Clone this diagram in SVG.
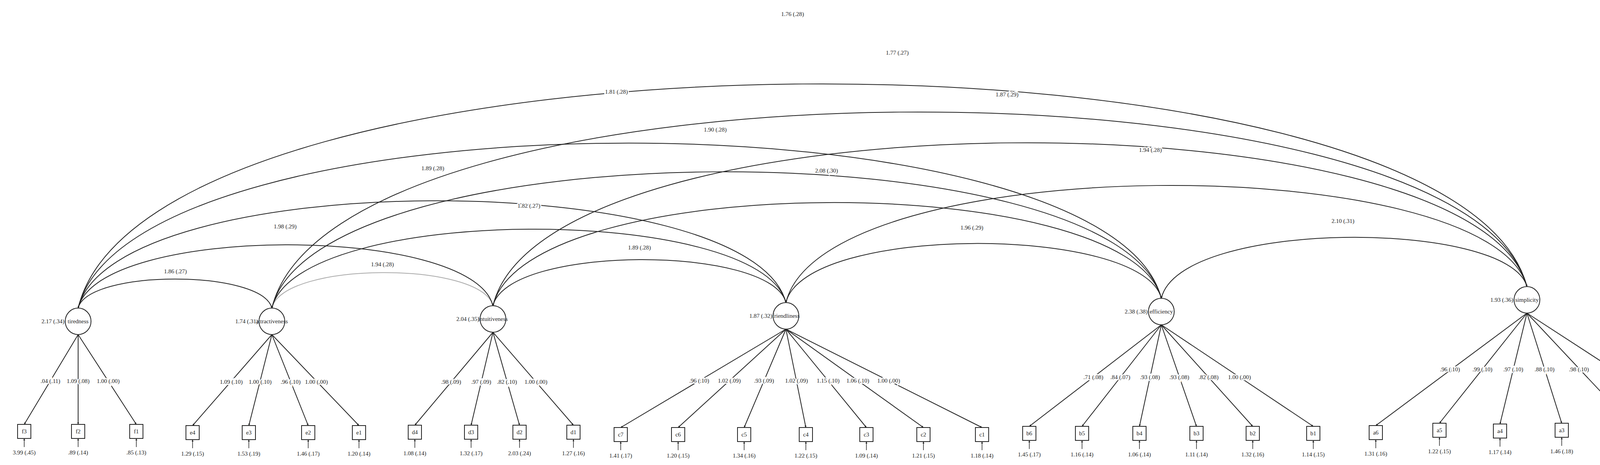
<svg xmlns="http://www.w3.org/2000/svg" width="4419" height="1191" viewBox="0 0 4419 1191">
<style>
text{font-family:"Liberation Serif",serif;font-size:15px;fill:#222;text-anchor:middle}
.v{text-anchor:end}
.h{stroke:#fff;stroke-width:6px;paint-order:stroke}
.lat{fill:#fff;stroke:#222;stroke-width:2}
.box{fill:#fff;stroke:#222;stroke-width:2}
.cov{fill:none;stroke:#222;stroke-width:2;marker-start:url(#ah);marker-end:url(#ah)}
.ld{stroke:#222;stroke-width:2;marker-end:url(#ah)}
.res{stroke:#222;stroke-width:1.5;marker-end:url(#ah)}
</style>
<defs>
<marker id="ah" viewBox="0 0 10 10" refX="10" refY="5" markerWidth="5" markerHeight="5" orient="auto-start-reverse" markerUnits="userSpaceOnUse"><path d="M0,0 L10,5 L0,10 z" fill="#222"/></marker>
</defs>
<rect width="4419" height="1191" fill="#fff"/>
<g id="connectors">
<path class="cov" d="M200,789 C225,690 671,690 696,789"/>
<path class="cov" style="stroke:#aaa" d="M696,789 C724,669 1234,669 1262,783"/>
<path class="cov" d="M1262,783 C1300,627 1974,627 2012,775"/>
<path class="cov" d="M2012,775 C2060,575 2925,575 2973,764"/>
<path class="cov" d="M2973,764 C3020,561 3862,561 3909,734"/>
<path class="cov" d="M200,789 C253,574 1209,574 1262,783"/>
<path class="cov" d="M696,789 C762,522 1946,522 2012,775"/>
<path class="cov" d="M1262,783 C1348,434 2887,434 2973,764"/>
<path class="cov" d="M2012,775 C2107,382 3814,382 3909,734"/>
<path class="cov" d="M200,789 C291,425 1921,425 2012,775"/>
<path class="cov" d="M696,789 C810,328 2859,328 2973,764"/>
<path class="cov" d="M1262,783 C1394,235 3777,235 3909,734"/>
<path class="cov" d="M200,789 C339,230 2834,230 2973,764"/>
<path class="cov" d="M696,789 C857,129 3748,129 3909,734"/>
<path class="cov" d="M200,789 C385,33 3724,33 3909,734"/>
<!-- loadings -->
<line class="ld" x1="200" y1="857" x2="62" y2="1087"/>
<line class="ld" x1="200" y1="857" x2="200" y2="1087"/>
<line class="ld" x1="200" y1="857" x2="349" y2="1087"/>
<line class="ld" x1="696" y1="857" x2="493" y2="1090"/>
<line class="ld" x1="696" y1="857" x2="637" y2="1090"/>
<line class="ld" x1="696" y1="857" x2="789" y2="1090"/>
<line class="ld" x1="696" y1="857" x2="919" y2="1090"/>
<line class="ld" x1="1262" y1="851" x2="1062" y2="1089"/>
<line class="ld" x1="1262" y1="851" x2="1206" y2="1089"/>
<line class="ld" x1="1262" y1="851" x2="1330" y2="1089"/>
<line class="ld" x1="1262" y1="851" x2="1468" y2="1089"/>
<line class="ld" x1="2012" y1="843" x2="1589" y2="1095"/>
<line class="ld" x1="2012" y1="843" x2="1736" y2="1095"/>
<line class="ld" x1="2012" y1="843" x2="1905" y2="1095"/>
<line class="ld" x1="2012" y1="843" x2="2063" y2="1095"/>
<line class="ld" x1="2012" y1="843" x2="2218" y2="1095"/>
<line class="ld" x1="2012" y1="843" x2="2364" y2="1095"/>
<line class="ld" x1="2012" y1="843" x2="2514" y2="1095"/>
<line class="ld" x1="2973" y1="832" x2="2635" y2="1092"/>
<line class="ld" x1="2973" y1="832" x2="2770" y2="1092"/>
<line class="ld" x1="2973" y1="832" x2="2917" y2="1092"/>
<line class="ld" x1="2973" y1="832" x2="3063" y2="1092"/>
<line class="ld" x1="2973" y1="832" x2="3207" y2="1092"/>
<line class="ld" x1="2973" y1="832" x2="3362" y2="1092"/>
<line class="ld" x1="3909" y1="802" x2="3522" y2="1090"/>
<line class="ld" x1="3909" y1="802" x2="3685" y2="1084"/>
<line class="ld" x1="3909" y1="802" x2="3840" y2="1086"/>
<line class="ld" x1="3909" y1="802" x2="3998" y2="1084"/>
<line class="ld" x1="3909" y1="802" x2="4170" y2="1080"/>
<line class="ld" x1="3909" y1="802" x2="4340" y2="1082"/>
<!-- residual arrows -->
<g class="res">
<line x1="62" y1="1145" x2="62" y2="1123"/><line x1="200" y1="1145" x2="200" y2="1123"/><line x1="349" y1="1145" x2="349" y2="1123"/>
<line x1="493" y1="1148" x2="493" y2="1126"/><line x1="637" y1="1148" x2="637" y2="1126"/><line x1="789" y1="1148" x2="789" y2="1126"/><line x1="919" y1="1148" x2="919" y2="1126"/>
<line x1="1062" y1="1147" x2="1062" y2="1125"/><line x1="1206" y1="1147" x2="1206" y2="1125"/><line x1="1330" y1="1147" x2="1330" y2="1125"/><line x1="1468" y1="1147" x2="1468" y2="1125"/>
<line x1="1589" y1="1153" x2="1589" y2="1131"/><line x1="1736" y1="1153" x2="1736" y2="1131"/><line x1="1905" y1="1153" x2="1905" y2="1131"/><line x1="2063" y1="1153" x2="2063" y2="1131"/><line x1="2218" y1="1153" x2="2218" y2="1131"/><line x1="2364" y1="1153" x2="2364" y2="1131"/><line x1="2514" y1="1153" x2="2514" y2="1131"/>
<line x1="2635" y1="1150" x2="2635" y2="1128"/><line x1="2770" y1="1150" x2="2770" y2="1128"/><line x1="2917" y1="1150" x2="2917" y2="1128"/><line x1="3063" y1="1150" x2="3063" y2="1128"/><line x1="3207" y1="1150" x2="3207" y2="1128"/><line x1="3362" y1="1150" x2="3362" y2="1128"/>
<line x1="3522" y1="1148" x2="3522" y2="1126"/><line x1="3685" y1="1142" x2="3685" y2="1120"/><line x1="3840" y1="1144" x2="3840" y2="1122"/><line x1="3998" y1="1142" x2="3998" y2="1120"/><line x1="4170" y1="1138" x2="4170" y2="1116"/><line x1="4340" y1="1140" x2="4340" y2="1118"/>
</g>
<!-- covariance labels -->
<g class="h">
<text x="449" y="700">1.86 (.27)</text>
<text x="979" y="682">1.94 (.28)</text>
<text x="730" y="585">1.98 (.29)</text>
<text x="1354" y="532">1.82 (.27)</text>
<text x="1108" y="436">1.89 (.28)</text>
<text x="1831" y="337">1.90 (.28)</text>
<text x="2116" y="442">2.08 (.30)</text>
<text x="1637" y="639">1.89 (.28)</text>
<text x="1578" y="240">1.81 (.28)</text>
<text x="2578" y="247">1.87 (.29)</text>
<text x="2029" y="41">1.76 (.28)</text>
<text x="2297" y="140">1.77 (.27)</text>
<text x="2945" y="389">1.94 (.28)</text>
<text x="2488" y="588">1.96 (.29)</text>
<text x="3438" y="571">2.10 (.31)</text>
</g>
<!-- loading labels -->
<g class="h">
<text x="129" y="981">.04 (.11)</text><text x="200" y="981">1.09 (.08)</text><text x="277" y="981">1.00 (.00)</text>
<text x="592" y="983">1.09 (.10)</text><text x="666" y="983">1.00 (.10)</text><text x="744" y="983">.96 (.10)</text><text x="810" y="983">1.00 (.00)</text>
<text x="1155" y="983">.98 (.09)</text><text x="1232" y="983">.97 (.09)</text><text x="1298" y="983">.82 (.10)</text><text x="1372" y="983">1.00 (.00)</text>
<text x="1790" y="980">.96 (.10)</text><text x="1867" y="980">1.02 (.09)</text><text x="1956" y="980">.93 (.09)</text><text x="2039" y="980">1.02 (.09)</text><text x="2120" y="980">1.15 (.10)</text><text x="2196" y="980">1.06 (.10)</text><text x="2275" y="980">1.00 (.00)</text>
<text x="2799" y="971">.71 (.08)</text><text x="2868" y="971">.84 (.07)</text><text x="2944" y="971">.93 (.08)</text><text x="3019" y="971">.93 (.08)</text><text x="3094" y="971">.82 (.08)</text><text x="3173" y="971">1.00 (.00)</text>
<text x="3712" y="951">.96 (.10)</text><text x="3795" y="951">.99 (.10)</text><text x="3874" y="951">.97 (.10)</text><text x="3954" y="951">.88 (.10)</text><text x="4042" y="951">.98 (.10)</text><text x="4129" y="951">1.00 (.00)</text>
</g>
</g>
<g id="tiredness"><ellipse class="lat" cx="200" cy="823" rx="33" ry="34"/><text x="200" y="828">tiredness</text><text class="v" x="165" y="828">2.17 (.34)</text></g>
<g id="attractiveness"><ellipse class="lat" cx="696" cy="823" rx="33" ry="34"/><text x="696" y="828">attractiveness</text><text class="v" x="661" y="828">1.74 (.31)</text></g>
<g id="intuitiveness"><ellipse class="lat" cx="1262" cy="817" rx="33" ry="34"/><text x="1262" y="822">intuitiveness</text><text class="v" x="1227" y="822">2.04 (.35)</text></g>
<g id="friendliness"><ellipse class="lat" cx="2012" cy="809" rx="33" ry="34"/><text x="2012" y="814">friendliness</text><text class="v" x="1977" y="814">1.87 (.32)</text></g>
<g id="efficiency"><ellipse class="lat" cx="2973" cy="798" rx="33" ry="34"/><text x="2973" y="803">efficiency</text><text class="v" x="2938" y="803">2.38 (.38)</text></g>
<g id="simplicity"><ellipse class="lat" cx="3909" cy="768" rx="33" ry="34"/><text x="3909" y="773">simplicity</text><text class="v" x="3874" y="773">1.93 (.36)</text></g>
<g id="f3"><rect class="box" x="45" y="1087" width="34" height="36"/><text x="62" y="1110">f3</text><text x="62" y="1164">3.99 (.45)</text></g>
<g id="f2"><rect class="box" x="183" y="1087" width="34" height="36"/><text x="200" y="1110">f2</text><text x="200" y="1164">.89 (.14)</text></g>
<g id="f1"><rect class="box" x="332" y="1087" width="34" height="36"/><text x="349" y="1110">f1</text><text x="349" y="1164">.85 (.13)</text></g>
<g id="e4"><rect class="box" x="476" y="1090" width="34" height="36"/><text x="493" y="1113">e4</text><text x="493" y="1167">1.29 (.15)</text></g>
<g id="e3"><rect class="box" x="620" y="1090" width="34" height="36"/><text x="637" y="1113">e3</text><text x="637" y="1167">1.53 (.19)</text></g>
<g id="e2"><rect class="box" x="772" y="1090" width="34" height="36"/><text x="789" y="1113">e2</text><text x="789" y="1167">1.46 (.17)</text></g>
<g id="e1"><rect class="box" x="902" y="1090" width="34" height="36"/><text x="919" y="1113">e1</text><text x="919" y="1167">1.20 (.14)</text></g>
<g id="d4"><rect class="box" x="1045" y="1089" width="34" height="36"/><text x="1062" y="1112">d4</text><text x="1062" y="1166">1.08 (.14)</text></g>
<g id="d3"><rect class="box" x="1189" y="1089" width="34" height="36"/><text x="1206" y="1112">d3</text><text x="1206" y="1166">1.32 (.17)</text></g>
<g id="d2"><rect class="box" x="1313" y="1089" width="34" height="36"/><text x="1330" y="1112">d2</text><text x="1330" y="1166">2.03 (.24)</text></g>
<g id="d1"><rect class="box" x="1451" y="1089" width="34" height="36"/><text x="1468" y="1112">d1</text><text x="1468" y="1166">1.27 (.16)</text></g>
<g id="c7"><rect class="box" x="1572" y="1095" width="34" height="36"/><text x="1589" y="1118">c7</text><text x="1589" y="1172">1.41 (.17)</text></g>
<g id="c6"><rect class="box" x="1719" y="1095" width="34" height="36"/><text x="1736" y="1118">c6</text><text x="1736" y="1172">1.20 (.15)</text></g>
<g id="c5"><rect class="box" x="1888" y="1095" width="34" height="36"/><text x="1905" y="1118">c5</text><text x="1905" y="1172">1.34 (.16)</text></g>
<g id="c4"><rect class="box" x="2046" y="1095" width="34" height="36"/><text x="2063" y="1118">c4</text><text x="2063" y="1172">1.22 (.15)</text></g>
<g id="c3"><rect class="box" x="2201" y="1095" width="34" height="36"/><text x="2218" y="1118">c3</text><text x="2218" y="1172">1.09 (.14)</text></g>
<g id="c2"><rect class="box" x="2347" y="1095" width="34" height="36"/><text x="2364" y="1118">c2</text><text x="2364" y="1172">1.21 (.15)</text></g>
<g id="c1"><rect class="box" x="2497" y="1095" width="34" height="36"/><text x="2514" y="1118">c1</text><text x="2514" y="1172">1.18 (.14)</text></g>
<g id="b6"><rect class="box" x="2618" y="1092" width="34" height="36"/><text x="2635" y="1115">b6</text><text x="2635" y="1169">1.45 (.17)</text></g>
<g id="b5"><rect class="box" x="2753" y="1092" width="34" height="36"/><text x="2770" y="1115">b5</text><text x="2770" y="1169">1.16 (.14)</text></g>
<g id="b4"><rect class="box" x="2900" y="1092" width="34" height="36"/><text x="2917" y="1115">b4</text><text x="2917" y="1169">1.06 (.14)</text></g>
<g id="b3"><rect class="box" x="3046" y="1092" width="34" height="36"/><text x="3063" y="1115">b3</text><text x="3063" y="1169">1.11 (.14)</text></g>
<g id="b2"><rect class="box" x="3190" y="1092" width="34" height="36"/><text x="3207" y="1115">b2</text><text x="3207" y="1169">1.32 (.16)</text></g>
<g id="b1"><rect class="box" x="3345" y="1092" width="34" height="36"/><text x="3362" y="1115">b1</text><text x="3362" y="1169">1.14 (.15)</text></g>
<g id="a6"><rect class="box" x="3505" y="1090" width="34" height="36"/><text x="3522" y="1113">a6</text><text x="3522" y="1167">1.31 (.16)</text></g>
<g id="a5"><rect class="box" x="3668" y="1084" width="34" height="36"/><text x="3685" y="1107">a5</text><text x="3685" y="1161">1.22 (.15)</text></g>
<g id="a4"><rect class="box" x="3823" y="1086" width="34" height="36"/><text x="3840" y="1109">a4</text><text x="3840" y="1163">1.17 (.14)</text></g>
<g id="a3"><rect class="box" x="3981" y="1084" width="34" height="36"/><text x="3998" y="1107">a3</text><text x="3998" y="1161">1.46 (.18)</text></g>
<g id="a2"><rect class="box" x="4153" y="1080" width="34" height="36"/><text x="4170" y="1103">a2</text><text x="4170" y="1157">1.41 (.17)</text></g>
<g id="a1"><rect class="box" x="4323" y="1082" width="34" height="36"/><text x="4340" y="1105">a1</text><text x="4340" y="1159">1.55 (.19)</text></g>
</svg>
